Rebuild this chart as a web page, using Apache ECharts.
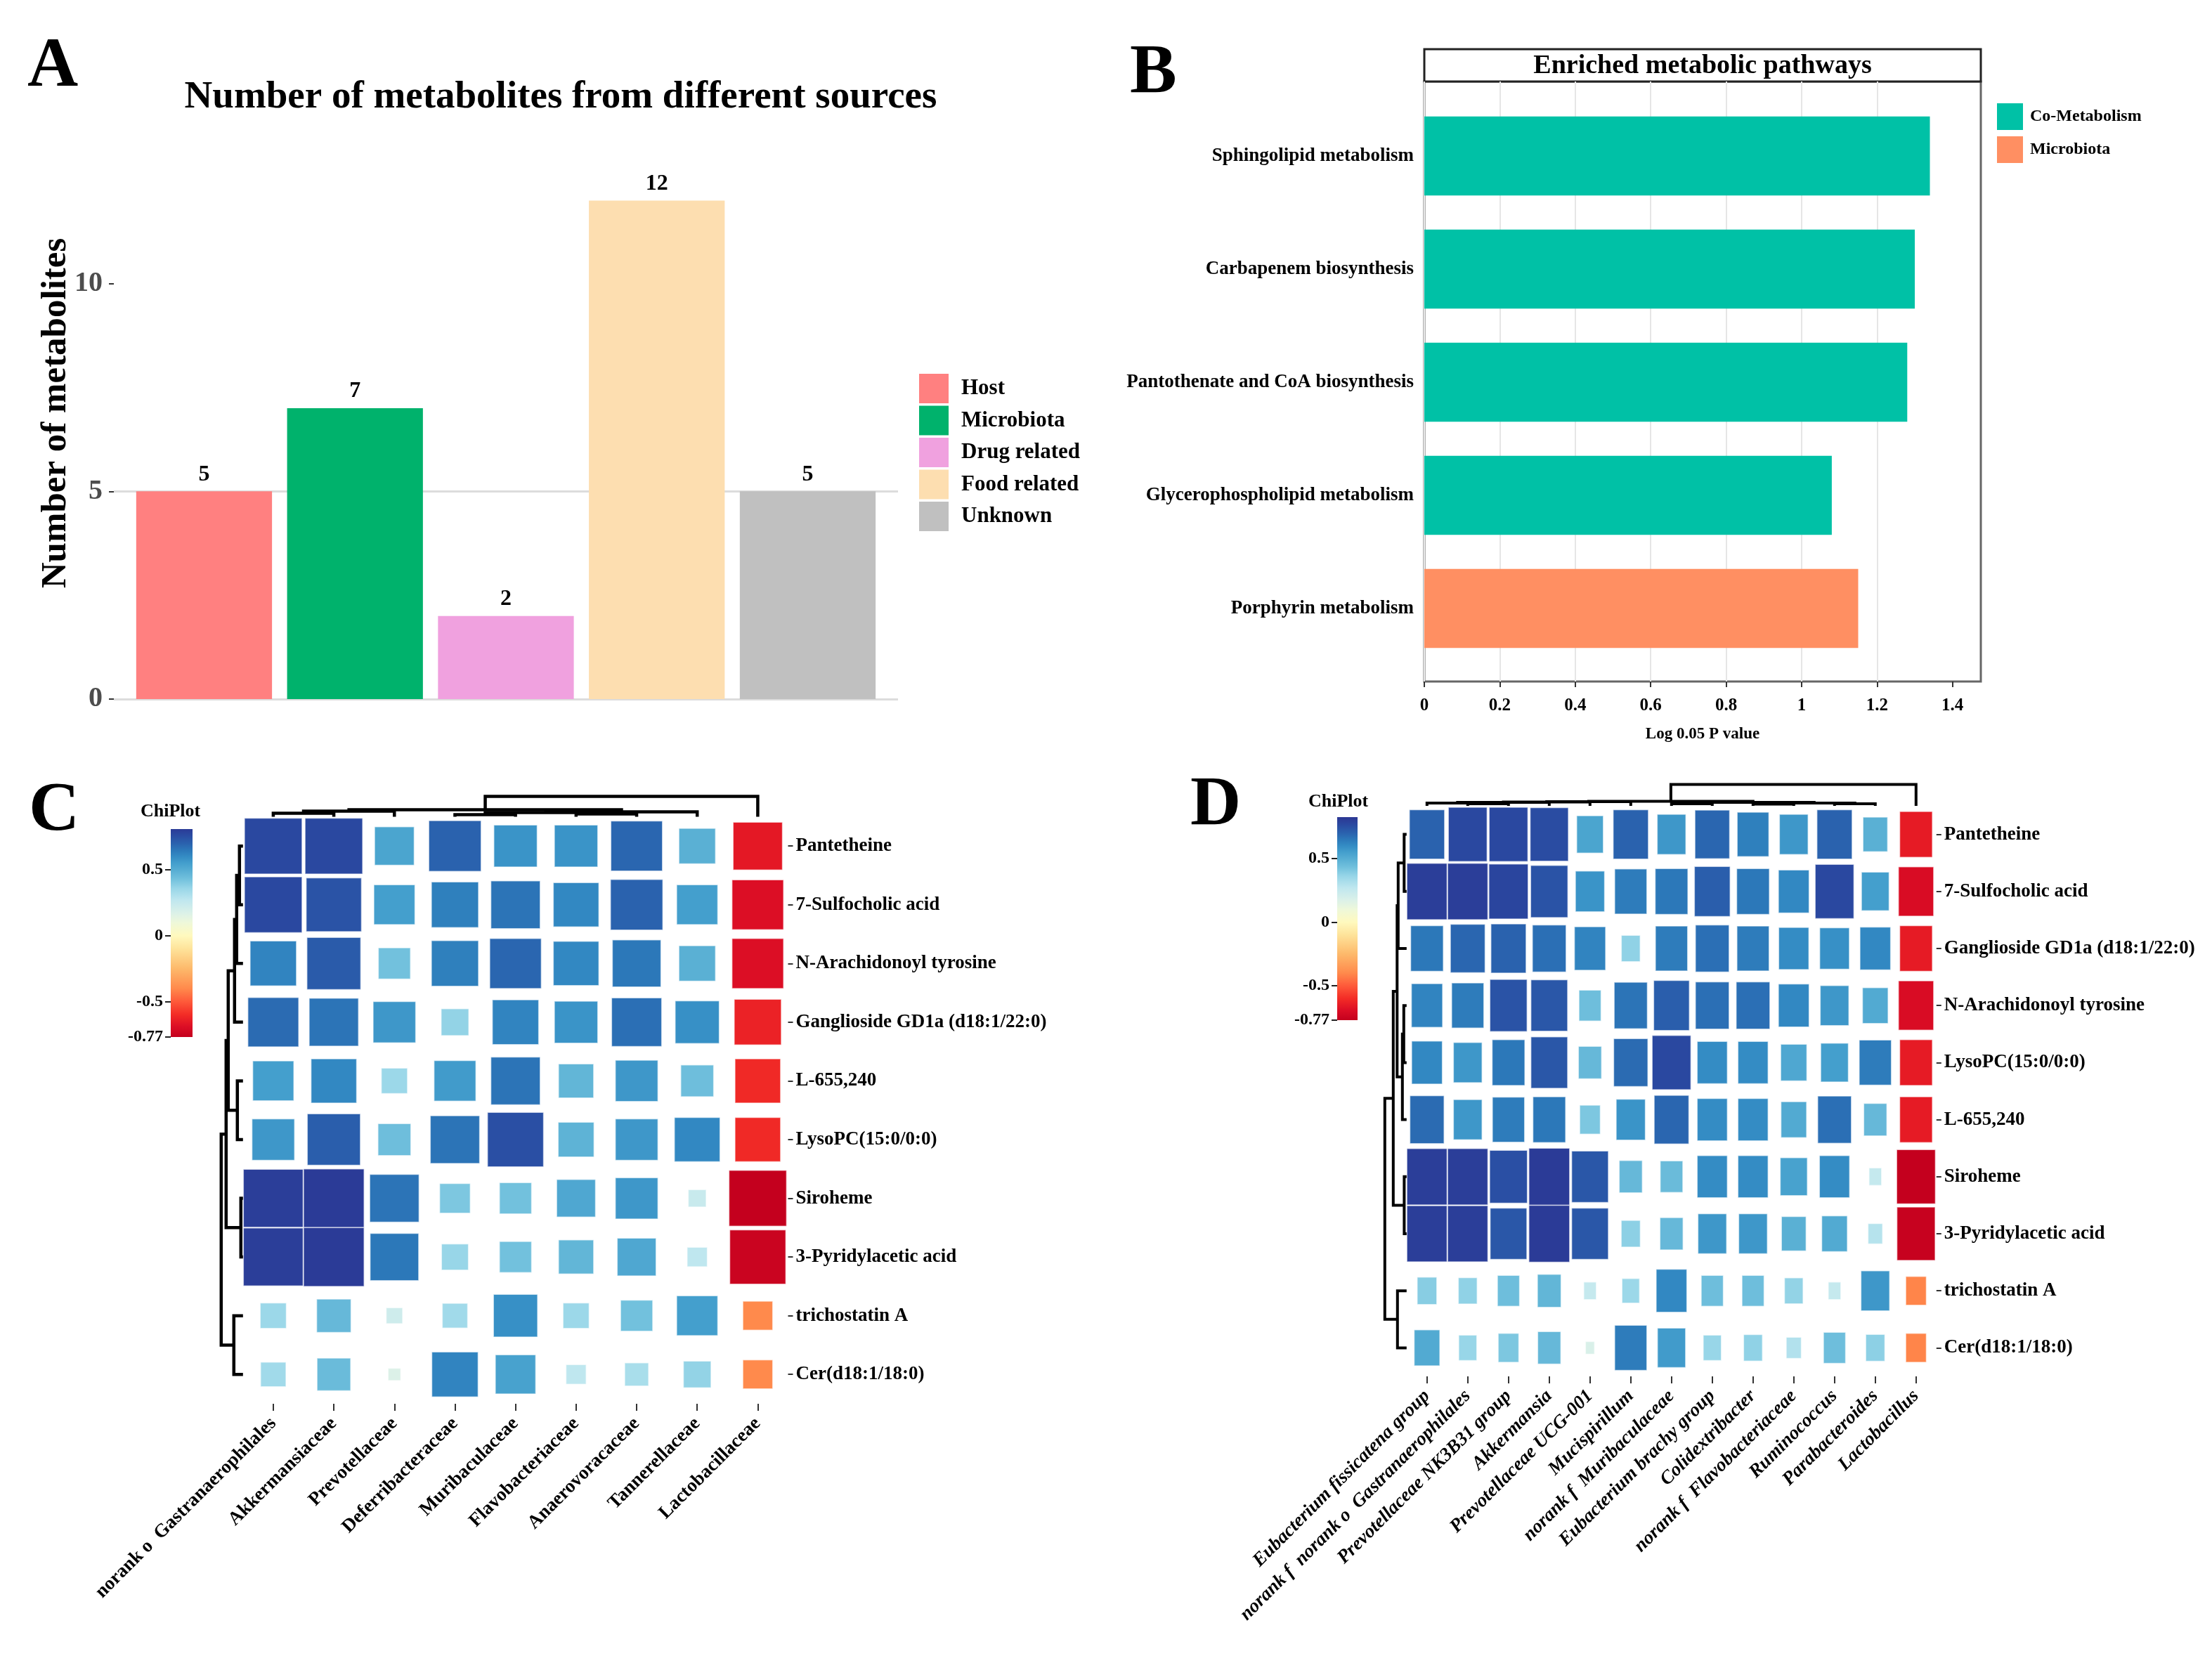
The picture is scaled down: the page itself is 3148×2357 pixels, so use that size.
<!DOCTYPE html>
<html><head><meta charset="utf-8">
<script src="https://cdn.jsdelivr.net/npm/echarts@6/dist/echarts.min.js"></script>
<style>html,body{margin:0;padding:0;background:#fff}#c{width:3148px;height:2357px}</style>
</head><body><div id="c"></div>
<script>
// ---------------- DATA ----------------
const sourceCategories = ['Host','Microbiota','Drug related','Food related','Unknown'];
const sourceCounts = [5,7,2,12,5];
const sourceTicks = [0,5,10];

const pathwayNames = ['Sphingolipid metabolism','Carbapenem biosynthesis','Pantothenate and CoA biosynthesis','Glycerophospholipid metabolism','Porphyrin metabolism'];
const pathwayValues = [1.34,1.30,1.28,1.08,1.15];
const pathwayGroups = ['Co-Metabolism','Co-Metabolism','Co-Metabolism','Co-Metabolism','Microbiota'];
const pathwayGroupNames = ['Co-Metabolism','Microbiota'];
const pathwayTicks = [0,0.2,0.4,0.6,0.8,1,1.2,1.4];

const heatRowsC = ['Pantetheine','7-Sulfocholic acid','N-Arachidonoyl tyrosine','Ganglioside GD1a (d18:1/22:0)','L-655,240','LysoPC(15:0/0:0)','Siroheme','3-Pyridylacetic acid','trichostatin A','Cer(d18:1/18:0)'];
const heatColsC = ['norank o  Gastranaerophilales','Akkermansiaceae','Prevotellaceae','Deferribacteraceae','Muribaculaceae','Flavobacteriaceae','Anaerovoracaceae','Tannerellaceae','Lactobacillaceae'];
const heatValuesC = [
  [0.77,0.77,0.53,0.70,0.58,0.58,0.69,0.49,-0.66],
  [0.77,0.74,0.55,0.63,0.66,0.61,0.70,0.55,-0.69],
  [0.62,0.72,0.43,0.63,0.69,0.61,0.65,0.49,-0.69],
  [0.68,0.66,0.57,0.37,0.62,0.58,0.67,0.59,-0.63],
  [0.55,0.61,0.35,0.56,0.66,0.47,0.57,0.44,-0.61],
  [0.57,0.71,0.44,0.66,0.75,0.48,0.57,0.61,-0.61],
  [0.80,0.81,0.66,0.41,0.43,0.52,0.57,0.24,-0.77],
  [0.80,0.81,0.65,0.36,0.43,0.47,0.52,0.27,-0.75],
  [0.35,0.46,0.22,0.34,0.59,0.35,0.43,0.55,-0.40],
  [0.34,0.45,0.17,0.62,0.54,0.27,0.32,0.37,-0.40]
];
// dendrogram merges: [childA, childB, height]; number = leaf index, 'mK' = merge K
const rowTreeC = [[0,1,5],['m0',2,9],['m1',3,12],[4,5,8],['m2','m3',21],[6,7,3],['m4','m5',24],[8,9,13],['m6','m7',31]];
const colTreeC = [[0,1,5],['m0',2,8],[3,4,3],[5,6,4],['m2','m3',6],['m4',7,7],['m1','m5',10],['m6',8,29]];

const heatRowsD = ['Pantetheine','7-Sulfocholic acid','Ganglioside GD1a (d18:1/22:0)','N-Arachidonoyl tyrosine','LysoPC(15:0/0:0)','L-655,240','Siroheme','3-Pyridylacetic acid','trichostatin A','Cer(d18:1/18:0)'];
const heatColsD = ['Eubacterium fissicatena group','norank f  norank o  Gastranaerophilales','Prevotellaceae NK3B31 group','Akkermansia','Prevotellaceae UCG-001','Mucispirillum','norank f  Muribaculaceae','Eubacterium brachy group','Colidextribacter','norank f  Flavobacteriaceae','Ruminococcus','Parabacteroides','Lactobacillus'];
const heatValuesD = [
  [0.70,0.77,0.77,0.76,0.53,0.70,0.57,0.69,0.63,0.57,0.70,0.49,-0.65],
  [0.80,0.80,0.78,0.74,0.58,0.64,0.65,0.71,0.65,0.61,0.77,0.55,-0.70],
  [0.65,0.69,0.70,0.67,0.62,0.375,0.64,0.67,0.64,0.60,0.59,0.61,-0.65],
  [0.62,0.64,0.74,0.73,0.44,0.66,0.71,0.67,0.67,0.61,0.57,0.51,-0.70],
  [0.61,0.57,0.65,0.73,0.46,0.68,0.77,0.60,0.60,0.52,0.55,0.64,-0.65],
  [0.68,0.57,0.64,0.65,0.41,0.58,0.69,0.60,0.60,0.51,0.67,0.46,-0.65],
  [0.80,0.80,0.75,0.81,0.73,0.46,0.45,0.60,0.60,0.54,0.60,0.25,-0.77],
  [0.80,0.80,0.73,0.81,0.73,0.38,0.46,0.57,0.57,0.49,0.51,0.29,-0.76],
  [0.39,0.375,0.44,0.47,0.25,0.35,0.61,0.44,0.44,0.37,0.25,0.57,-0.41],
  [0.51,0.36,0.41,0.46,0.18,0.64,0.56,0.36,0.375,0.30,0.44,0.38,-0.41]
];
const rowTreeD = [[0,1,3.5],['m0',2,12],[3,4,4],['m2',5,6],['m1','m3',13.5],[6,7,3.4],['m4','m5',19],[8,9,13],['m6','m7',31]];
const colTreeD = [[1,2,3],[0,'m0',4],['m1',3,5],['m2',4,5.5],['m3',5,6],[6,7,3],[8,9,2.5],[10,11,3],['m6','m7',4],['m5','m8',5],['m4','m9',6.5],['m10',12,30.4]];

const colorbarTicks = [0.5,0,-0.5,-0.77];
const scaleMin = -0.77, scaleMaxC = 0.81, scaleMaxD = 0.825, sizeMax = 0.81;

// ---------------- STYLE ----------------
const FONT = "'Liberation Serif','Times New Roman',serif";
const sourceColors = ['#FF8080','#00B26C','#F0A1DF','#FDDEB0','#C0C0C0'];
const pathColors = {'Co-Metabolism':'#00C1A6','Microbiota':'#FF8F62'};
const colorStops = [[-0.77,'#C4001E'],[-0.69,'#DC0E25'],[-0.6,'#F32C26'],[-0.5,'#FE5A3A'],[-0.4,'#FF8A4C'],[-0.25,'#FDB96B'],[-0.1,'#FEE39A'],[0,'#FFF9BE'],[0.1,'#EEF8DA'],[0.17,'#DCF1E8'],[0.27,'#BFE7EF'],[0.36,'#98D6E8'],[0.43,'#72C1DD'],[0.5,'#56ADD3'],[0.55,'#449FCD'],[0.6,'#348CC4'],[0.65,'#2C78B9'],[0.7,'#2A62AE'],[0.77,'#2A48A0'],[0.83,'#2C3592']];

function hex2rgb(h){return [parseInt(h.slice(1,3),16),parseInt(h.slice(3,5),16),parseInt(h.slice(5,7),16)];}
function colorFor(v){
  if(v<=colorStops[0][0]) return colorStops[0][1];
  for(let i=1;i<colorStops.length;i++){
    if(v<=colorStops[i][0]){
      const [a,ca]=colorStops[i-1],[b,cb]=colorStops[i];
      const t=(v-a)/(b-a), A=hex2rgb(ca), B=hex2rgb(cb);
      return 'rgb('+A.map((x,k)=>Math.round(x+(B[k]-x)*t)).join(',')+')';
    }
  }
  return colorStops[colorStops.length-1][1];
}
function flattenHeat(vals){const out=[];vals.forEach((row,r)=>row.forEach((v,c)=>out.push([c,r,v])));return out;}
function heatRender(params, api){
  const v=api.value(2), c=api.coord([api.value(0),api.value(1)]), s=api.size([1,1]);
  const r=Math.min(1,Math.abs(v)/sizeMax), w=s[0]*r, h=s[1]*r;
  return {type:'rect',shape:{x:c[0]-w/2,y:c[1]-h/2,width:w,height:h},
    style:{fill:colorFor(v),stroke:'rgba(255,255,255,0.6)',lineWidth:1.5}};
}
function buildDendro(merges){
  const pos=[],ht=[];
  const get=c=>typeof c==='number'?[c,0]:[pos[+c.slice(1)],ht[+c.slice(1)]];
  return merges.map((m,k)=>{const a=get(m[0]),b=get(m[1]);pos[k]=(a[0]+b[0])/2;ht[k]=m[2];return [a[0],a[1],b[0],b[1],m[2]];});
}
function dendroRender(orient,lw){
  return function(params,api){
    const pA=api.value(0),hA=api.value(1),pB=api.value(2),hB=api.value(3),h=api.value(4);
    const pt=(p,hh)=>orient==='row'?api.coord([hh,p]):api.coord([p,hh]);
    return {type:'polyline',shape:{points:[pt(pA,hA),pt(pA,h),pt(pB,h),pt(pB,hB)]},
      style:{stroke:'#000',lineWidth:lw,fill:null,lineJoin:'miter'}};
  };
}
function cbRender(mn,mx){
  return function(params,api){
    const p1=api.coord([0,mx]),p2=api.coord([1,mn]);
    const stops=[];
    colorStops.forEach(([v,c])=>{if(v>=mn&&v<=mx)stops.push({offset:(mx-v)/(mx-mn),color:c});});
    stops.push({offset:0,color:colorFor(mx)});
    stops.sort((a,b)=>a.offset-b.offset);
    return {type:'rect',shape:{x:p1[0],y:p1[1],width:p2[0]-p1[0],height:p2[1]-p1[1]},
      style:{fill:new echarts.graphic.LinearGradient(0,0,0,1,stops)}};
  };
}
const bold=(size,color)=>({fontFamily:FONT,fontWeight:'bold',fontSize:size,color:color||'#000'});
const hidV=(g,mn,mx,inv)=>({gridIndex:g,type:'value',min:mn,max:mx,inverse:!!inv,show:false});

function cbAxis(g,mn,mx){
  return {gridIndex:g,type:'value',min:mn,max:mx,position:'left',axisLine:{show:false},
    axisTick:{show:true,length:8,customValues:colorbarTicks,lineStyle:{color:'#222',width:2}},
    axisLabel:Object.assign({customValues:colorbarTicks,margin:11},bold(24)),splitLine:{show:false}};
}
function heatX(g,data,italic){
  return {gridIndex:g,type:'category',data:data,position:'bottom',axisLine:{show:false},
    axisTick:{show:true,alignWithLabel:true,length:10,lineStyle:{color:'#333',width:2}},
    axisLabel:Object.assign({interval:0,rotate:45,margin:24,fontStyle:italic?'italic':'normal'},bold(27)),splitLine:{show:false}};
}
function heatY(g,data){
  return {gridIndex:g,type:'category',data:data,inverse:true,position:'right',axisLine:{show:false},
    axisTick:{show:true,alignWithLabel:true,length:7,lineStyle:{color:'#333',width:2}},
    axisLabel:Object.assign({interval:0,margin:11},bold(27)),splitLine:{show:false}};
}

const option = {
  animation:false,
  backgroundColor:'#fff',
  textStyle:{fontFamily:FONT},
  grid:[
    {left:162,top:250,width:1116,height:745},            //0 A frame
    {left:183.1,top:250,width:1073.75,height:745},       //1 A bars
    {left:2027,top:116,width:792,height:854,show:true,borderColor:'#666',borderWidth:3}, //2 B frame
    {left:2027,top:141.5,width:792,height:805},          //3 B bars
    {left:345.8,top:1162.4,width:775.7,height:835.6},    //4 C heat
    {left:310.8,top:1162.4,width:35,height:835.6},       //5 C row dendro
    {left:345.8,top:1128.4,width:775.7,height:34},       //6 C col dendro
    {left:243,top:1180,width:31,height:296},             //7 C colorbar
    {left:2001.8,top:1147,width:754,height:812},         //8 D heat
    {left:1966.8,top:1147,width:35,height:812},          //9 D row dendro
    {left:2001.8,top:1113,width:754,height:34},          //10 D col dendro
    {left:1903,top:1163,width:29,height:289}             //11 D colorbar
  ],
  xAxis:[
    hidV(0,0,1),
    {gridIndex:1,type:'category',data:sourceCategories,show:false},
    {gridIndex:2,type:'value',min:0,max:1.475,interval:0.2,axisLine:{show:false},
      axisTick:{show:true,length:8,customValues:pathwayTicks,lineStyle:{color:'#333',width:2}},
      axisLabel:Object.assign({customValues:pathwayTicks,margin:22},bold(25)),
      splitLine:{show:true,showMaxLine:false,lineStyle:{color:'#E6E6E6',width:2}},
      name:'Log 0.05 P value',nameLocation:'middle',nameGap:64,nameTextStyle:bold(23)},
    hidV(3,0,1.475),
    heatX(4,heatColsC,false),
    hidV(5,0,35,true),
    hidV(6,-0.5,8.5),
    hidV(7,0,1),
    heatX(8,heatColsD,true),
    hidV(9,0,35,true),
    hidV(10,-0.5,12.5),
    hidV(11,0,1)
  ],
  yAxis:[
    {gridIndex:0,type:'value',min:0,max:12.6,interval:5,axisLine:{show:false},
      axisTick:{show:true,length:7,customValues:sourceTicks,lineStyle:{color:'#333',width:2}},
      axisLabel:Object.assign({customValues:sourceTicks,margin:16},bold(40,'#4D4D4D')),
      splitLine:{show:true,showMaxLine:false,lineStyle:{color:'#DCDCDC',width:3}}},
    hidV(1,0,12.6),
    hidV(2,0,1),
    {gridIndex:3,type:'category',data:pathwayNames,inverse:true,axisLine:{show:false},axisTick:{show:false},
      axisLabel:Object.assign({margin:15},bold(27))},
    heatY(4,heatRowsC),
    hidV(5,-0.5,9.5,true),
    hidV(6,0,34),
    cbAxis(7,scaleMin,scaleMaxC),
    heatY(8,heatRowsD),
    hidV(9,-0.5,9.5,true),
    hidV(10,0,34),
    cbAxis(11,scaleMin,scaleMaxD)
  ],
  legend:[
    {orient:'vertical',left:1308,top:532,itemWidth:42,itemHeight:42,itemGap:3.5,icon:'rect',padding:0,
      data:sourceCategories.map((n,i)=>({name:n,itemStyle:{color:sourceColors[i]}})),
      textStyle:Object.assign({padding:[0,0,0,13]},bold(31))},
    {orient:'vertical',left:2842,top:147,itemWidth:37,itemHeight:38,itemGap:9,icon:'rect',padding:0,
      data:pathwayGroupNames.map(n=>({name:n,itemStyle:{color:pathColors[n]}})),
      textStyle:Object.assign({padding:[0,0,0,5]},bold(24))}
  ],
  graphic:[
    {type:'text',x:39,y:96,style:{text:'A',font:'bold 100px '+FONT,fill:'#000',verticalAlign:'middle'}},
    {type:'text',x:1608,y:105,style:{text:'B',font:'bold 100px '+FONT,fill:'#000',verticalAlign:'middle'}},
    {type:'text',x:41,y:1155,style:{text:'C',font:'bold 100px '+FONT,fill:'#000',verticalAlign:'middle'}},
    {type:'text',x:1694,y:1147,style:{text:'D',font:'bold 100px '+FONT,fill:'#000',verticalAlign:'middle'}},
    {type:'text',x:798,y:139,style:{text:'Number of metabolites from different sources',font:'bold 55px '+FONT,fill:'#000',align:'center',verticalAlign:'middle'}},
    {type:'text',x:80,y:588,rotation:Math.PI/2,style:{text:'Number of metabolites',font:'bold 51px '+FONT,fill:'#000',align:'center',verticalAlign:'middle'}},
    {type:'rect',shape:{x:2027,y:70,width:792,height:46},style:{fill:'#fff',stroke:'#222',lineWidth:3}},
    {type:'text',x:2423,y:94,style:{text:'Enriched metabolic pathways',font:'bold 38px '+FONT,fill:'#000',align:'center',verticalAlign:'middle'}},
    {type:'text',x:200,y:1155,style:{text:'ChiPlot',font:'bold 26px '+FONT,fill:'#000',verticalAlign:'middle'}},
    {type:'text',x:1862,y:1141,style:{text:'ChiPlot',font:'bold 26px '+FONT,fill:'#000',verticalAlign:'middle'}}
  ],
  series:[
    ...sourceCategories.map((n,i)=>({name:n,type:'bar',xAxisIndex:1,yAxisIndex:1,stack:'a',barWidth:'90%',
      itemStyle:{color:sourceColors[i]},
      label:Object.assign({show:true,position:'top',distance:8},bold(32)),
      data:sourceCounts.map((v,j)=>j===i?v:'-')})),
    ...pathwayGroupNames.map(g=>({name:g,type:'bar',xAxisIndex:3,yAxisIndex:3,stack:'b',barWidth:'70%',
      itemStyle:{color:pathColors[g]},
      data:pathwayValues.map((v,j)=>pathwayGroups[j]===g?v:'-')})),
    {type:'custom',xAxisIndex:4,yAxisIndex:4,renderItem:heatRender,data:flattenHeat(heatValuesC)},
    {type:'custom',xAxisIndex:5,yAxisIndex:5,renderItem:dendroRender('row',4.5),data:buildDendro(rowTreeC)},
    {type:'custom',xAxisIndex:6,yAxisIndex:6,renderItem:dendroRender('col',4.5),data:buildDendro(colTreeC)},
    {type:'custom',xAxisIndex:7,yAxisIndex:7,renderItem:cbRender(scaleMin,scaleMaxC),data:[[0.5,0]]},
    {type:'custom',xAxisIndex:8,yAxisIndex:8,renderItem:heatRender,data:flattenHeat(heatValuesD)},
    {type:'custom',xAxisIndex:9,yAxisIndex:9,renderItem:dendroRender('row',4),data:buildDendro(rowTreeD)},
    {type:'custom',xAxisIndex:10,yAxisIndex:10,renderItem:dendroRender('col',4),data:buildDendro(colTreeD)},
    {type:'custom',xAxisIndex:11,yAxisIndex:11,renderItem:cbRender(scaleMin,scaleMaxD),data:[[0.5,0]]}
  ]
};
const chart = echarts.init(document.getElementById('c'),null,{renderer:'canvas'});
chart.setOption(option);
</script></body></html>
